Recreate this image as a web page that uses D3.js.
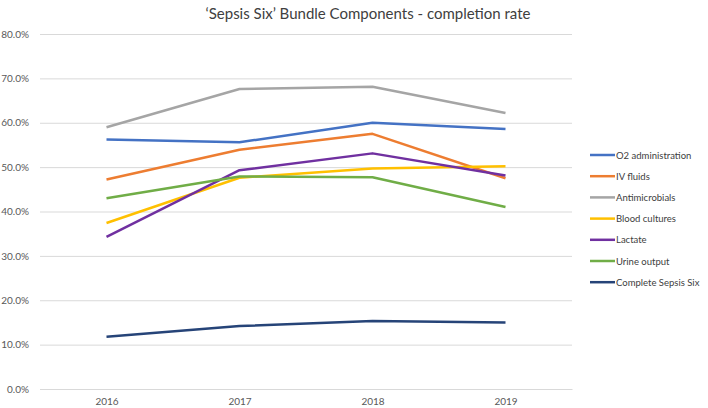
<!DOCTYPE html>
<html>
<head>
<meta charset="utf-8">
<script src="https://cdn.jsdelivr.net/npm/d3@7"></script>
<style>
  body { margin: 0; background: #fff; }
  text { font-family: Lato, "Open Sans", sans-serif; }
</style>
</head>
<body>
<svg id="chart"></svg>
<script>
// Data
const years = ["2016", "2017", "2018", "2019"];
const seriesNames = ["O2 administration", "IV fluids", "Antimicrobials", "Blood cultures",
  "Lactate", "Urine output", "Complete Sepsis Six"];
const o2 = [0.562, 0.556, 0.600, 0.586];
const ivFluids = [0.472, 0.539, 0.575, 0.475];
const antimicrobials = [0.590, 0.676, 0.681, 0.622];
const bloodCultures = [0.374, 0.476, 0.497, 0.502];
const lactate = [0.343, 0.493, 0.531, 0.481];
const urineOutput = [0.430, 0.479, 0.477, 0.410];
const completeSix = [0.118, 0.142, 0.153, 0.150];
const yTicks = [0, 0.1, 0.2, 0.3, 0.4, 0.5, 0.6, 0.7, 0.8];
const colors = ["#4472C4", "#ED7D31", "#A5A5A5", "#FFC000", "#7030A0", "#70AD47", "#264478"];

const allValues = [o2, ivFluids, antimicrobials, bloodCultures, lactate, urineOutput, completeSix];
const series = seriesNames.map((name, i) => ({ name, values: allValues[i], color: colors[i] }));

const W = 708, H = 408;
const margin = { top: 34, right: 136, bottom: 19, left: 40 };
const width = W - margin.left - margin.right;
const height = H - margin.top - margin.bottom;

const svg = d3.select("#chart").attr("width", W).attr("height", H);

// Title
svg.append("text")
  .attr("x", 368)
  .attr("y", 19)
  .attr("text-anchor", "middle")
  .style("font-size", "15px")
  .style("fill", "#404040")
  .text("\u2018Sepsis Six\u2019 Bundle Components - completion rate");

const g = svg.append("g").attr("transform", `translate(${margin.left},${margin.top})`);

const x = d3.scalePoint().domain(years).range([0, width]).padding(0.5);
const y = d3.scaleLinear().domain([0, 0.8]).range([height, 0]);

// Gridlines + y labels
const yAxis = g.append("g")
  .call(d3.axisLeft(y).tickValues(yTicks).tickFormat(d3.format(".1%")).tickSize(-width).tickPadding(11));
yAxis.select(".domain").remove();
yAxis.selectAll(".tick line").attr("stroke", "#d9d9d9").attr("stroke-width", 1);
yAxis.selectAll(".tick text").style("font-size", "10px").style("fill", "#595959")
  .style("font-family", "Lato, sans-serif");

// X axis
const xAxis = g.append("g")
  .attr("transform", `translate(0,${height})`)
  .call(d3.axisBottom(x).tickSize(0).tickPadding(9));
xAxis.select(".domain").attr("stroke", "#d9d9d9");
xAxis.selectAll(".tick text").style("font-size", "10px").style("fill", "#595959")
  .style("font-family", "Lato, sans-serif");

// Lines
const line = d3.line().x((d, i) => x(years[i])).y(d => y(d));
g.selectAll(".series")
  .data(series)
  .enter()
  .append("path")
  .attr("class", "series")
  .attr("fill", "none")
  .attr("stroke", d => d.color)
  .attr("stroke-width", 2.5)
  .attr("stroke-linejoin", "round")
  .attr("d", d => line(d.values));

// Legend
const legend = svg.append("g").attr("transform", "translate(590,155)");
const item = legend.selectAll(".item")
  .data(series)
  .enter()
  .append("g")
  .attr("transform", (d, i) => `translate(0,${i * 21.2})`);
item.append("line")
  .attr("x1", 0).attr("x2", 25)
  .attr("stroke", d => d.color)
  .attr("stroke-width", 2.5);
item.append("text")
  .attr("x", 26)
  .attr("y", 3.5)
  .style("font-size", "9.5px")
  .style("fill", "#404040")
  .text(d => d.name);
</script>
</body>
</html>
